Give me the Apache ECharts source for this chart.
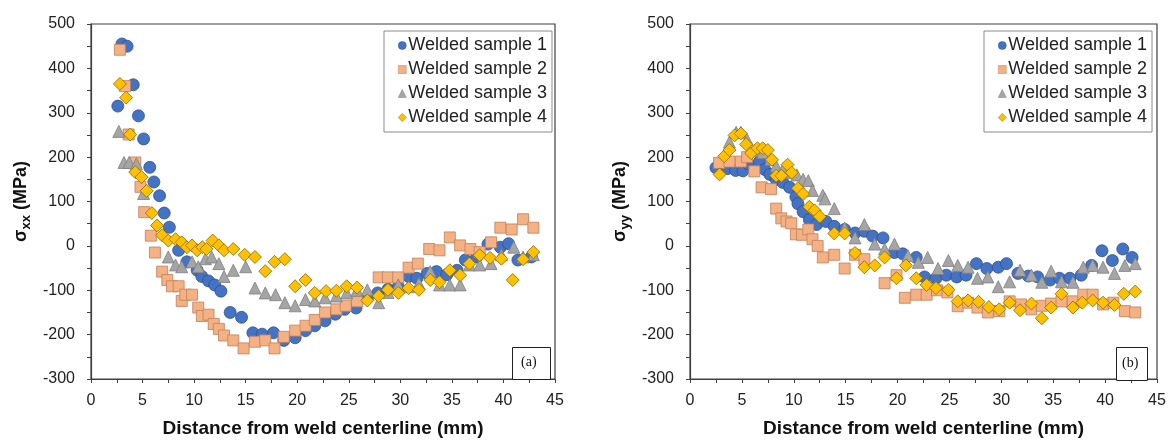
<!DOCTYPE html>
<html>
<head>
<meta charset="utf-8">
<script src="https://cdn.jsdelivr.net/npm/echarts@6/dist/echarts.min.js"></script>
<style>
html,body{margin:0;padding:0;background:#fff;}
#chart{width:1171px;height:443px;}
</style>
</head>
<body>
<div id="chart"></div>
<script>
// ---------- data ----------
const seriesNames = ['Welded sample 1','Welded sample 2','Welded sample 3','Welded sample 4'];
const xTicks = [0,5,10,15,20,25,30,35,40,45];
const yTicks = [-300,-200,-100,0,100,200,300,400,500];

// (a) sigma_xx [distance mm, MPa]
const sxx_s1 = [[2.6,315],[3.0,455],[3.5,450],[4.1,363],[4.6,293],[5.1,241],[5.7,177],[6.1,144],[6.65,113],[7.1,74],[7.6,42],[8.5,-10],[9.3,-36],[10.3,-55],[10.75,-69],[11.4,-79],[12.0,-88],[12.6,-102],[13.5,-150],[14.6,-161],[15.7,-196],[16.6,-199],[17.7,-196],[18.7,-213],[19.8,-207],[20.8,-191],[21.7,-180],[22.7,-169],[23.7,-154],[24.6,-143],[25.7,-140],[26.8,-118],[27.8,-106],[28.8,-98],[29.8,-92],[30.8,-69],[31.6,-73],[32.6,-62],[33.5,-58],[34.5,-65],[35.5,-55],[36.3,-32],[37.4,-25],[38.5,4],[39.7,-3],[40.5,5],[41.4,-32],[42.7,-25]];
const sxx_s2 = [[2.8,442],[3.3,360],[3.65,251],[4.3,188],[4.8,133],[5.16,76],[5.8,23],[6.2,-15],[6.9,-58],[7.4,-77],[7.85,-91],[8.5,-91],[8.8,-124],[9.15,-110],[9.8,-110],[10.4,-139],[10.75,-158],[11.4,-155],[11.9,-176],[12.4,-187],[12.9,-202],[13.8,-213],[14.8,-231],[15.9,-216],[16.9,-213],[17.8,-231],[18.7,-205],[19.8,-191],[20.8,-180],[21.7,-167],[22.7,-150],[23.8,-143],[24.7,-135],[25.8,-125],[27.9,-71],[28.8,-71],[29.8,-71],[30.8,-49],[31.7,-40],[32.8,-7],[33.8,-10],[34.8,19],[35.8,1],[36.8,-7],[37.7,-14],[38.8,8],[39.7,41],[40.8,37],[41.9,60],[42.9,41]];
const sxx_s3 = [[2.7,258],[3.2,188],[3.7,188],[4.4,185],[5.1,118],[7.5,-25],[8.2,-43],[8.8,-47],[9.8,-36],[10.4,-47],[11.1,-29],[11.7,-25],[12.4,-40],[12.9,-69],[13.8,-55],[15.0,-47],[15.9,-95],[16.9,-106],[17.9,-110],[18.8,-128],[19.8,-135],[20.8,-121],[21.7,-124],[22.7,-117],[23.8,-113],[24.8,-106],[25.8,-100],[26.8,-99],[27.9,-128],[28.8,-105],[29.8,-88],[30.8,-92],[31.8,-85],[32.9,-58],[33.8,-88],[34.8,-88],[35.8,-88],[36.7,-43],[37.7,-43],[38.8,-40],[39.8,-20],[41.0,-3],[41.9,-25],[42.9,-20]];
const sxx_s4 = [[2.8,365],[3.4,334],[3.8,251],[4.3,166],[4.9,155],[5.4,124],[5.9,74],[6.4,46],[6.9,24],[7.5,12],[8.2,15],[8.8,8],[9.3,-3],[9.8,1],[10.3,-10],[10.8,-3],[11.2,-7],[11.8,12],[12.4,1],[12.9,-10],[13.8,-7],[14.9,-20],[15.9,-25],[16.9,-57],[17.8,-36],[18.8,-30],[19.8,-91],[20.8,-77],[21.7,-106],[22.8,-102],[23.8,-101],[24.8,-91],[25.8,-94],[26.8,-123],[27.9,-113],[28.8,-99],[29.8,-106],[30.8,-95],[31.8,-99],[32.9,-77],[33.8,-82],[34.8,-55],[35.8,-66],[36.7,-40],[37.7,-21],[38.7,-27],[39.8,-29],[40.9,-77],[41.9,-30],[42.9,-14]];

// (b) sigma_yy [distance mm, MPa]
const syy_s1 = [[2.5,176],[3.6,174],[4.4,170],[5.1,169],[5.6,185],[6.7,190],[7.2,172],[7.7,161],[8.3,150],[8.95,143],[9.6,132],[10.2,110],[10.4,95],[10.9,77],[11.5,59],[12.2,48],[13.1,55],[13.9,44],[14.9,37],[15.9,29],[16.8,33],[17.6,22],[18.6,18],[19.7,-15],[20.5,-18],[21.8,-26],[22.6,-70],[23.7,-73],[24.7,-66],[25.7,-70],[26.6,-66],[27.6,-40],[28.6,-51],[29.7,-48],[30.5,-40],[31.6,-62],[32.6,-68],[33.5,-70],[34.7,-77],[35.6,-73],[36.6,-73],[37.7,-66],[38.7,-44],[39.7,-11],[40.7,-33],[41.7,-7],[42.6,-26]];
const syy_s2 = [[2.8,187],[3.8,190],[4.9,190],[5.5,200],[6.2,168],[6.9,132],[7.8,128],[8.3,84],[8.8,62],[9.3,55],[9.75,51],[10.2,26],[10.8,25],[11.4,37],[11.8,15],[12.3,0],[12.8,-26],[13.9,-20],[14.9,-51],[15.9,-20],[16.8,-30],[18.75,-84],[19.9,-66],[20.7,-117],[21.8,-110],[22.8,-110],[23.8,-100],[24.8,-105],[25.8,-136],[26.8,-128],[27.7,-139],[28.7,-150],[29.8,-147],[30.8,-125],[31.9,-132],[32.9,-143],[33.9,-135],[34.8,-130],[35.8,-125],[36.9,-125],[37.9,-110],[38.8,-110],[39.8,-132],[40.8,-128],[41.9,-147],[42.9,-150]];
const syy_s3 = [[3.8,234],[4.45,256],[4.9,256],[5.5,240],[6.2,215],[7.0,210],[7.8,195],[8.3,180],[9.0,175],[9.6,165],[10.3,160],[10.9,150],[11.4,147],[11.8,125],[12.8,114],[13.0,106],[13.9,84],[14.9,40],[15.9,18],[16.8,48],[17.8,4],[18.75,-7],[19.7,4],[21.0,-22],[22.0,-37],[22.9,-26],[23.9,-51],[24.9,-33],[25.8,-44],[26.8,-48],[27.7,-73],[28.7,-70],[29.7,-92],[30.8,-81],[31.8,-55],[32.9,-66],[33.9,-82],[34.8,-57],[35.8,-81],[36.9,-82],[37.9,-48],[38.8,-44],[39.8,-48],[40.9,-62],[41.9,-44],[42.9,-40]];
const syy_s4 = [[2.85,161],[3.3,202],[3.8,216],[4.3,249],[4.9,253],[5.4,229],[5.9,209],[6.5,220],[7.0,220],[7.5,216],[7.9,194],[8.3,158],[8.8,158],[9.4,183],[9.8,165],[10.4,130],[10.9,117],[11.5,88],[12.0,80],[12.5,66],[13.9,28],[14.9,28],[15.9,-16],[16.8,-48],[17.8,-44],[18.75,-26],[19.9,-73],[20.8,-44],[21.8,-73],[22.8,-88],[23.7,-95],[24.9,-99],[25.8,-125],[26.8,-123],[27.8,-126],[28.8,-138],[29.8,-143],[30.8,-128],[31.8,-145],[32.9,-130],[33.9,-163],[34.8,-139],[35.8,-108],[36.9,-139],[37.8,-128],[38.8,-123],[39.8,-128],[40.9,-133],[41.8,-108],[42.9,-103]];

// ---------- styles ----------
const FONT = '"Liberation Sans", Arial, sans-serif';
const markers = [
  {symbol:'circle', size:12, color:'#4472C4', border:'#2F528F'},
  {symbol:'rect', size:11, color:'#F4B183', border:'#C0805A'},
  {symbol:'triangle', size:12, color:'#A5A5A5', border:'#7F7F7F'},
  {symbol:'diamond', size:13, color:'#FFC000', border:'#8C6A00'}
];

function xAxisCfg(gi){
  return {
    gridIndex: gi, type:'value', min:0, max:45, interval:5,
    axisLine:{show:true, onZero:false, lineStyle:{color:'#404040', width:1.2}},
    axisTick:{show:true, length:4, lineStyle:{color:'#404040'}},
    minorTick:{show:true, splitNumber:2, length:4, lineStyle:{color:'#404040'}},
    splitLine:{show:false},
    axisLabel:{fontFamily:FONT, fontSize:16, color:'#222', margin:14},
    name:'Distance from weld centerline (mm)', nameLocation:'middle', nameGap:40,
    nameTextStyle:{fontFamily:FONT, fontSize:19, fontWeight:'bold', color:'#111'}
  };
}
function yAxisCfg(gi, sub){
  return {
    gridIndex: gi, type:'value', min:-300, max:500, interval:100,
    axisLine:{show:true, onZero:false, lineStyle:{color:'#404040', width:1.2}},
    axisTick:{show:true, length:4, lineStyle:{color:'#404040'}},
    minorTick:{show:true, splitNumber:2, length:4, lineStyle:{color:'#404040'}},
    splitLine:{show:false},
    axisLabel:{fontFamily:FONT, fontSize:16, color:'#222', margin:16},
    name:'{n|σ}{s|' + sub + '}{n| (MPa)}', nameLocation:'middle', nameGap:58,
    nameTextStyle:{
      fontFamily:FONT, fontSize:18, fontWeight:'bold', color:'#111',
      rich:{
        n:{fontFamily:FONT, fontSize:18, fontWeight:'bold', color:'#111', lineHeight:21, verticalAlign:'top'},
        s:{fontFamily:FONT, fontSize:13, fontWeight:'bold', color:'#111', lineHeight:13, verticalAlign:'bottom', padding:[10,0,0,0]}
      }
    }
  };
}
function makeSeries(data, i, gi){
  const m = markers[i];
  return {
    name: seriesNames[i], type:'scatter', xAxisIndex:gi, yAxisIndex:gi,
    data: data, symbol:m.symbol, symbolSize:m.size,
    itemStyle:{color:m.color, borderColor:m.border, borderWidth:0.8, opacity:1},
    emphasis:{disabled:true}, animation:false
  };
}
function legendCfg(right){
  return {
    orient:'vertical', right:right, top:31,
    data: seriesNames.map((n,i)=>({name:n, icon:markers[i].symbol, itemStyle:{borderWidth:0.5}})),
    itemWidth:8, itemHeight:8, itemGap:5,
    padding:[5,5,5,14],
    borderColor:'#8c8c8c', borderWidth:1, backgroundColor:'#fff',
    textStyle:{fontFamily:FONT, fontSize:18, color:'#222', lineHeight:19, padding:[0,0,0,-3]},
    selectedMode:false
  };
}

const chart = echarts.init(document.getElementById('chart'), null, {renderer:'canvas'});
chart.setOption({
  backgroundColor:'#fff',
  animation:false,
  grid:[
    {left:91, top:24, width:464, height:363, show:true, borderColor:'#404040', borderWidth:1.2, backgroundColor:'transparent'},
    {left:690, top:24, width:467, height:363, show:true, borderColor:'#404040', borderWidth:1.2, backgroundColor:'transparent'}
  ],
  xAxis:[xAxisCfg(0), xAxisCfg(1)],
  yAxis:[yAxisCfg(0,'xx'), yAxisCfg(1,'yy')],
  legend:[legendCfg(619), legendCfg(19)],
  series:[
    makeSeries(sxx_s1,0,0), makeSeries(sxx_s2,1,0), makeSeries(sxx_s3,2,0), makeSeries(sxx_s4,3,0),
    makeSeries(syy_s1,0,1), makeSeries(syy_s2,1,1), makeSeries(syy_s3,2,1), makeSeries(syy_s4,3,1)
  ],
  graphic:[
    {type:'rect', left:512, top:347, shape:{width:38, height:32}, style:{fill:'#fff', stroke:'#222', lineWidth:1}, z:100},
    {type:'text', left:521, top:355, style:{text:'(a)', font:'14px "Liberation Serif", "Times New Roman", serif', fill:'#111'}, z:101},
    {type:'rect', left:1116, top:347, shape:{width:31, height:33}, style:{fill:'#fff', stroke:'#222', lineWidth:1}, z:100},
    {type:'text', left:1122, top:356, style:{text:'(b)', font:'14px "Liberation Serif", "Times New Roman", serif', fill:'#111'}, z:101}
  ]
});
</script>
</body>
</html>
